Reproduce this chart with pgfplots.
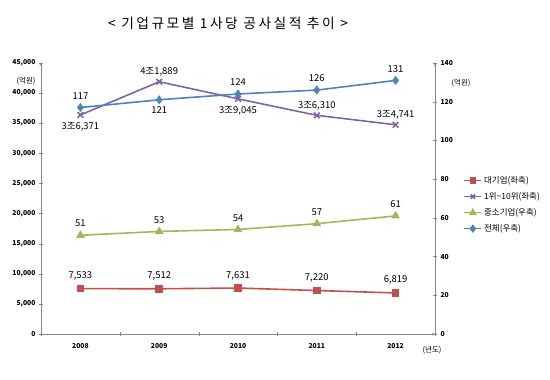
\documentclass[border=0pt]{standalone}
\usepackage{fontspec}
\setmainfont{Noto Sans CJK KR}
\usepackage{pgfplots}
\pgfplotsset{compat=1.18}

\definecolor{cred}{HTML}{C0504D}
\definecolor{cpurple}{HTML}{8064A2}
\definecolor{cgreen}{HTML}{9BBB59}
\definecolor{cblue}{HTML}{4F81BD}
\definecolor{axgray}{HTML}{868686}

\newcommand{\lblfont}{\fontsize{9.5}{11}\selectfont}
\newcommand{\tickfont}{\fontsize{6.8}{7.5}\selectfont\bfseries}

\begin{document}
\begin{tikzpicture}[x=1bp,y=1bp]
\useasboundingbox (0,0) rectangle (550,379);
\node[font=\fontsize{13.8}{15}\selectfont\addfontfeature{LetterSpace=18}] at (228,356) {< 기업규모별 1사당 공사실적 추이 >};
\node[font=\fontsize{7.5}{9}\selectfont] at (26,298) {(억원)};
\node[font=\fontsize{7.5}{9}\selectfont] at (461,296) {(억원)};
\node[font=\fontsize{7.5}{9}\selectfont] at (432,29) {(년도)};

\pgfplotsset{
  common/.style={
    at={(41bp,45bp)}, anchor=south west,
    scale only axis, width=394bp, height=271bp,
    xmin=-0.5, xmax=4.5,
    axis line style={draw=axgray,-},
    tick style={draw=axgray},
    tick align=outside,
    major tick length=4bp, minor tick length=4bp,
    ticklabel style={font=\tickfont},
    /pgf/number format/assume math mode=true,
    scaled y ticks=false,
    yticklabel style={/pgf/number format/.cd, fixed, 1000 sep={,}},
  },
  lblabove/.style={draw=none, mark=none, forget plot,
    nodes near coords, point meta=explicit symbolic,
    every node near coord/.style={font=\lblfont, text=black, anchor=south, inner sep=4bp, yshift=4bp}},
  lblbelow/.style={draw=none, mark=none, forget plot,
    nodes near coords, point meta=explicit symbolic,
    every node near coord/.style={font=\lblfont, text=black, anchor=north, inner sep=4bp, yshift=-3bp}},
}

\begin{axis}[common,
  ymin=0, ymax=45000,
  axis x line=bottom, axis y line=left,
  xtick={0,...,4}, xticklabels={2008,2009,2010,2011,2012},
  major x tick style={draw=none},
  minor xtick={-0.5,0.5,...,4.5},
  xticklabel style={yshift=-4bp},
  ytick={0,5000,...,45000},
]
% 대기업 (좌축)
\addplot[cred, line width=1.6bp, mark=square*, mark size=3bp]
  coordinates {(0,7533) (1,7512) (2,7631) (3,7220) (4,6819)};
\addplot[lblabove] coordinates {(0,7533)[7,533] (1,7512)[7,512] (2,7631)[7,631] (3,7220)[7,220] (4,6819)[6,819]};
% 1위~10위 (좌축)
\addplot[cpurple, line width=1.6bp, mark=x, mark size=4bp]
  coordinates {(0,36371) (1,41889) (2,39045) (3,36310) (4,34741)};
\addplot[lblabove, every node near coord/.append style={yshift=-3bp}] coordinates {(1,41889)[4조1,889] (3,36310)[3조6,310] (4,34741)[3조4,741]};
\addplot[lblbelow] coordinates {(0,36371)[3조6,371] (2,39045)[3조9,045]};
\end{axis}

\begin{axis}[common,
  ymin=0, ymax=140,
  axis y line=right, axis x line=none,
  ytick={0,20,...,140},
  legend style={draw=none, at={(1.072,0.59)}, anchor=north west,
    font=\fontsize{8.5}{10}\selectfont, row sep=3.5bp, inner sep=0pt},
  legend cell align=left,
]
% 중소기업 (우축)
\addplot[cgreen, line width=1.6bp, mark=triangle*, mark size=3.5bp, forget plot]
  coordinates {(0,51) (1,53) (2,54) (3,57) (4,61)};
\addplot[lblabove] coordinates {(0,51)[51] (1,53)[53] (2,54)[54] (3,57)[57] (4,61)[61]};
% 전체 (우축)
\addplot[cblue, line width=1.6bp, mark=diamond*, mark size=3.2bp, forget plot]
  coordinates {(0,117) (1,121) (2,124) (3,126) (4,131)};
\addplot[lblabove] coordinates {(0,117)[117] (2,124)[124] (3,126)[126] (4,131)[131]};
\addplot[lblbelow] coordinates {(1,121)[121]};
\addlegendimage{cred, line width=1.6bp, mark=square*, mark size=2.5bp}
\addlegendentry{대기업(좌축)}
\addlegendimage{cpurple, line width=1.6bp, mark=x, mark size=3bp}
\addlegendentry{1위\textasciitilde10위(좌축)}
\addlegendimage{cgreen, line width=1.6bp, mark=triangle*, mark size=3bp}
\addlegendentry{중소기업(우축)}
\addlegendimage{cblue, line width=1.6bp, mark=diamond*, mark size=3bp}
\addlegendentry{전체(우축)}
\end{axis}
\end{tikzpicture}
\end{document}
